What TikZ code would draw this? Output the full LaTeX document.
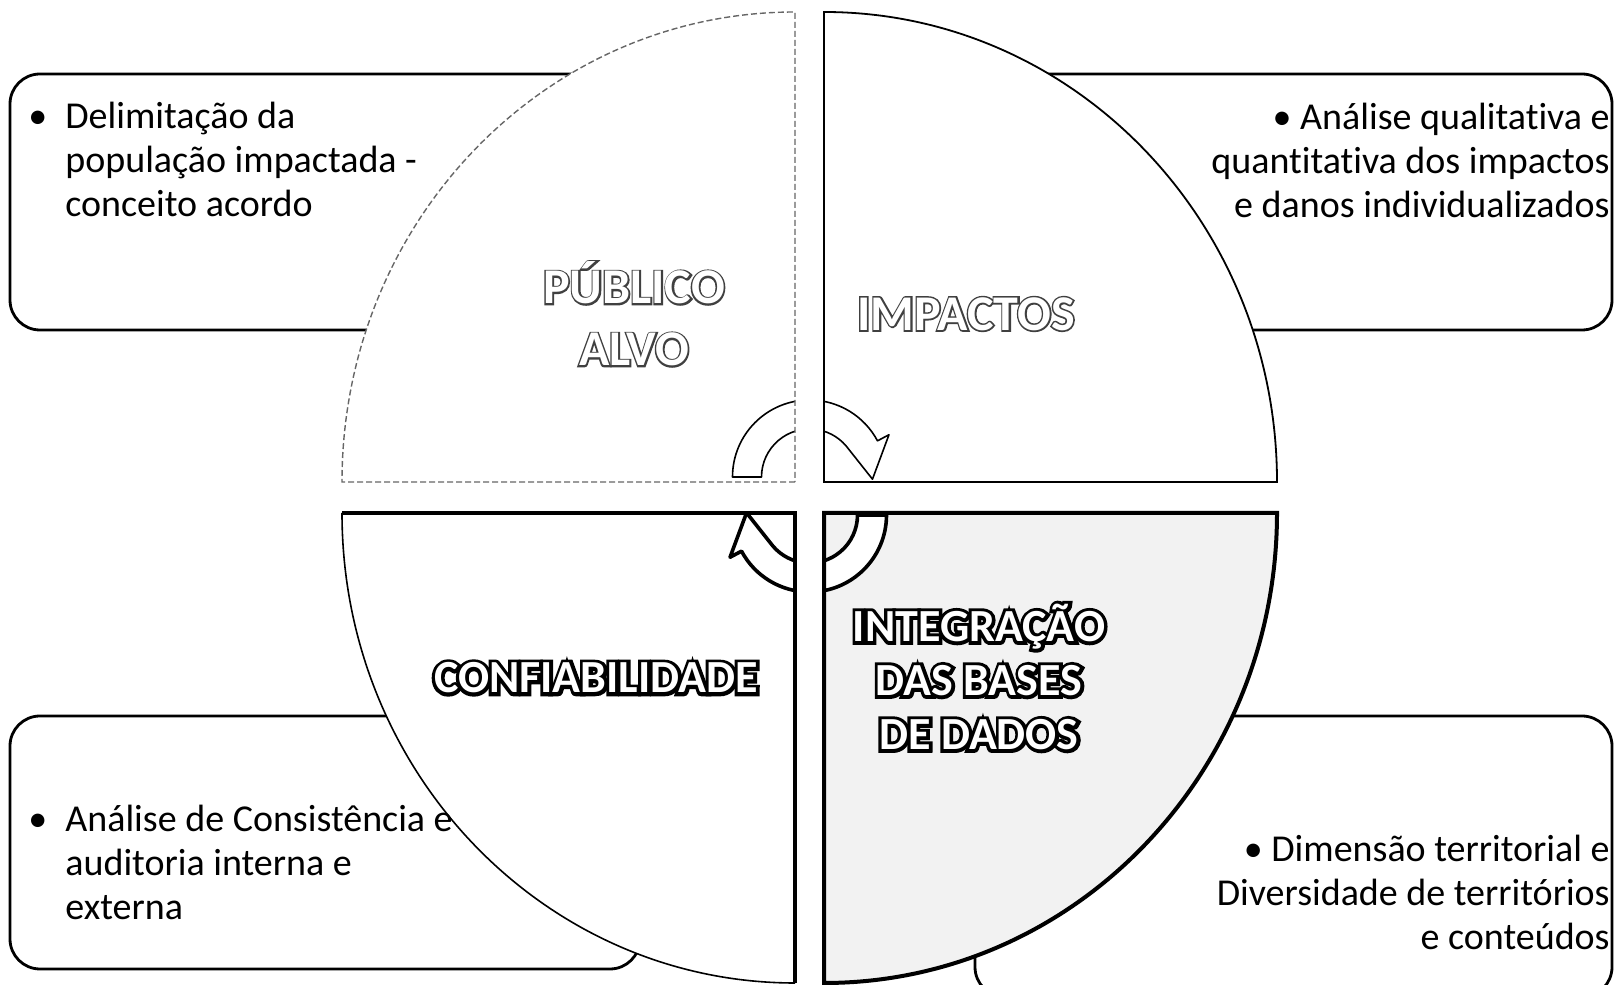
\documentclass[tikz,border=0pt]{standalone}
\usepackage{fontspec}
\setmainfont{Carlito}[Ligatures=NoCommon]
\usetikzlibrary{positioning}

% quarter shapes of the cycle matrix (1 unit = 1 px of the reference)
\newcommand{\qUL}{(795,503) -- (342,503) arc[start angle=180, end angle=90, x radius=453, y radius=470] -- cycle}
\newcommand{\qUR}{(824,503) -- (824,973) arc[start angle=90, end angle=0, x radius=453, y radius=470] -- cycle}
\newcommand{\qLL}{(795,472) -- (342,472) arc[start angle=180, end angle=270, x radius=453, y radius=470] -- cycle}
\newcommand{\qLR}{(824,472) -- (1277,472) arc[start angle=0, end angle=-90, x radius=453, y radius=470] -- cycle}
% white letters on a dark rim (#1 rim grey, #2 rim width, #3 text)
\newcommand{\rimword}[3]{\rlap{\special{pdf:literal direct 2 Tr #2 w #1 G #1 g}#3}\special{pdf:literal direct 0 Tr 1 g}#3}

\begin{document}
\begin{tikzpicture}[x=0.5pt, y=0.5pt,
        infobox/.style={draw=black, fill=white, line width=1.4pt, rounded corners=15pt},
        bodytext/.style={inner sep=0pt, font=\fontsize{19}{22}\selectfont},
        toplabel/.style={text=white, align=center, inner sep=0pt, font=\bfseries\fontsize{25}{31}\selectfont},
        botlabel/.style={text=white, align=center, inner sep=0pt, font=\bfseries\fontsize{23}{27}\selectfont},
        cyclearrow/.style={draw=black, fill=white, line join=round},
    ]
    \useasboundingbox (0,0) rectangle (1617,985);

    % Text boxes behind the quarters
    \draw[infobox] (10,655) rectangle (640,911);
    \draw[infobox] (975,655) rectangle (1612,911);
    \draw[infobox] (10,16) rectangle (640,269);
    \draw[infobox] (975,-12) rectangle (1612,269);

    % Quarters (fill)
    \fill[white] \qUL;
    \fill[white] \qUR;
    \fill[white] \qLL;
    \fill[black!5] \qLR;

    % Circular arrows in the middle
    \begin{scope}
        \clip \qUL \qUR \qLL \qLR;
        \foreach \rot/\lw in {0/0.8pt, 180/1.8pt}
            \draw[cyclearrow, line width=\lw, rotate around={\rot:(809.5,489)}]
                ([shift={(809.5,508)}]180:77) arc[start angle=180, end angle=28, radius=77]
                -- ([shift={(809.5,508)}]28:90)
                -- ([shift={(809.5,508)}]-2:63)
                -- ([shift={(809.5,508)}]40:48)
                arc[start angle=40, end angle=180, radius=48] -- cycle;
    \end{scope}

    % Quarters (outlines)
    \draw[black!60, line width=0.7pt, dash pattern=on 3pt off 1.5pt] \qUL;
    \draw[black, line width=0.9pt] \qUR;
    \draw[black, line width=0.8pt] (342,472) arc[start angle=180, end angle=270, x radius=453, y radius=470];
    \draw[black, line width=2.2pt] (342,472) -- (795,472) -- (795,2);
    \draw[black, line width=2pt] \qLR;

    % Quarter labels
    \node[toplabel] (publico) at (634,671) {\rimword{0.25}{1.6}{PÚBLICO}\\\rimword{0.25}{1.6}{ALVO}};
    \node[toplabel] (impactos) at (966,671) {\rimword{0.25}{1.6}{IMPACTOS}};
    \node[botlabel] (confiab) at (596,307) {\rimword{0}{3.4}{CONFIABILIDADE}};
    \node[botlabel] (integra) at (979,308) {\rimword{0}{3.4}{INTEGRAÇÃO}\\\rimword{0}{3.4}{DAS BASES}\\\rimword{0}{3.4}{DE DADOS}};

    % Box texts
    \node[bodytext, anchor=north west, align=left] (txtTL) at (65,883) {\llap{•\hspace{9pt}}Delimitação da\\população impactada -\\conceito acordo};
    \node[bodytext, anchor=north east, align=right] (txtTR) at (1610,882) {• Análise qualitativa e\\quantitativa dos impactos\\e danos individualizados};
    \node[bodytext, anchor=north west, align=left] (txtBL) at (65,180) {\llap{•\hspace{9pt}}Análise de Consistência e\\auditoria interna e\\externa};
    \node[bodytext, anchor=north east, align=right] (txtBR) at (1610,150) {• Dimensão territorial e\\Diversidade de territórios\\e conteúdos};
\end{tikzpicture}
\end{document}
